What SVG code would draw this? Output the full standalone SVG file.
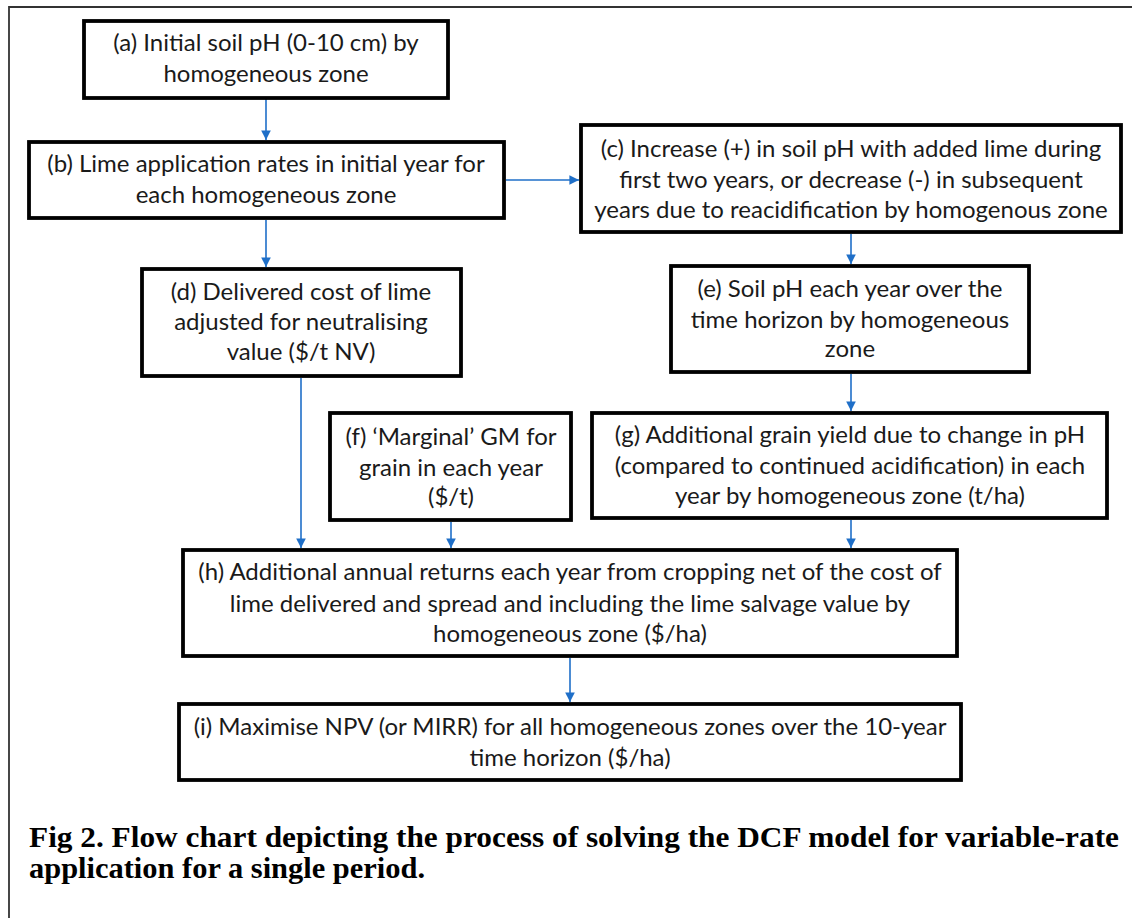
<svg xmlns="http://www.w3.org/2000/svg" width="1132" height="918" viewBox="0 0 1132 918">
  <style>
    .box { fill: #ffffff; stroke: #000000; stroke-width: 3.8; }
    .t { font-family: Lato, "Open Sans", "Liberation Sans", sans-serif; font-size: 24px; fill: #1a1a1a; text-anchor: middle; }
    .edge { stroke: #1f6fc8; stroke-width: 1.6; fill: none; marker-end: url(#arr); }
    .cap { font-family: "Liberation Serif", "Times New Roman", serif; font-weight: bold; font-size: 30px; fill: #000000; }
    .frame { stroke: #333333; stroke-width: 1.8; fill: none; }
  </style>
  <defs>
    <marker id="arr" viewBox="0 0 10 10" refX="10" refY="5" markerWidth="6" markerHeight="6" orient="auto" markerUnits="strokeWidth">
      <path d="M0,0 L10,5 L0,10 z" fill="#1f6fc8"/>
    </marker>
  </defs>
  <rect x="0" y="0" width="1132" height="918" fill="#ffffff"/>
  <path class="frame" d="M9,918 L9,7 L1132,7"/>

  <g id="connectors">
    <line class="edge" x1="266" y1="99" x2="266" y2="140"/>
    <line class="edge" x1="506" y1="180" x2="579" y2="180"/>
    <line class="edge" x1="266" y1="220" x2="266" y2="267"/>
    <line class="edge" x1="851" y1="234" x2="851" y2="264"/>
    <line class="edge" x1="851" y1="374" x2="851" y2="411"/>
    <line class="edge" x1="301" y1="378" x2="301" y2="548"/>
    <line class="edge" x1="451" y1="522" x2="451" y2="548"/>
    <line class="edge" x1="851" y1="520" x2="851" y2="548"/>
    <line class="edge" x1="570" y1="658" x2="570" y2="702"/>
  </g>

  <g id="node-a">
    <rect class="box" x="84" y="21" width="364" height="77"/>
    <text class="t" x="266" y="51">(a) Initial soil pH (0-10 cm) by</text>
    <text class="t" x="266" y="82">homogeneous zone</text>
  </g>
  <g id="node-b">
    <rect class="box" x="29" y="142" width="475" height="76"/>
    <text class="t" x="266" y="172">(b) Lime application rates in initial year for</text>
    <text class="t" x="266" y="203">each homogeneous zone</text>
  </g>
  <g id="node-c">
    <rect class="box" x="581" y="125" width="540" height="107"/>
    <text class="t" x="851" y="157">(c) Increase (+) in soil pH with added lime during</text>
    <text class="t" x="851" y="188">first two years, or decrease (-) in subsequent</text>
    <text class="t" x="851" y="218">years due to reacidification by homogenous zone</text>
  </g>
  <g id="node-d">
    <rect class="box" x="142" y="269" width="319" height="107"/>
    <text class="t" x="301" y="300">(d) Delivered cost of lime</text>
    <text class="t" x="301" y="330">adjusted for neutralising</text>
    <text class="t" x="301" y="360">value ($/t NV)</text>
  </g>
  <g id="node-e">
    <rect class="box" x="671" y="266" width="358" height="106"/>
    <text class="t" x="850" y="297">(e) Soil pH each year over the</text>
    <text class="t" x="850" y="328">time horizon by homogeneous</text>
    <text class="t" x="850" y="357">zone</text>
  </g>
  <g id="node-f">
    <rect class="box" x="330" y="413" width="241" height="107"/>
    <text class="t" x="451" y="445">(f) ‘Marginal’ GM for</text>
    <text class="t" x="451" y="476">grain in each year</text>
    <text class="t" x="451" y="505">($/t)</text>
  </g>
  <g id="node-g">
    <rect class="box" x="592" y="413" width="515" height="105"/>
    <text class="t" x="850" y="443">(g) Additional grain yield due to change in pH</text>
    <text class="t" x="850" y="474">(compared to continued acidification) in each</text>
    <text class="t" x="850" y="504">year by homogeneous zone (t/ha)</text>
  </g>
  <g id="node-h">
    <rect class="box" x="183" y="550" width="774" height="106"/>
    <text class="t" x="570" y="580">(h) Additional annual returns each year from cropping net of the cost of</text>
    <text class="t" x="570" y="612">lime delivered and spread and including the lime salvage value by</text>
    <text class="t" x="570" y="642">homogeneous zone ($/ha)</text>
  </g>
  <g id="node-i">
    <rect class="box" x="179" y="704" width="782" height="76"/>
    <text class="t" x="570" y="735">(i) Maximise NPV (or MIRR) for all homogeneous zones over the 10-year</text>
    <text class="t" x="570" y="766">time horizon ($/ha)</text>
  </g>

  <g id="caption">
    <text class="cap" x="29" y="847" textLength="1090" lengthAdjust="spacingAndGlyphs">Fig 2. Flow chart depicting the process of solving the DCF model for variable-rate</text>
    <text class="cap" x="29" y="878" textLength="396" lengthAdjust="spacingAndGlyphs">application for a single period.</text>
  </g>
</svg>
